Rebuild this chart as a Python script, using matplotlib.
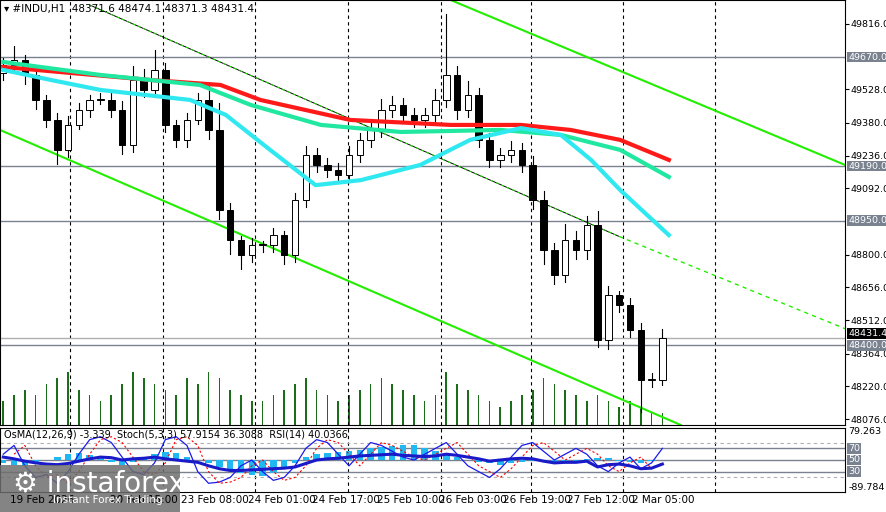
import matplotlib
matplotlib.use("Agg")
import matplotlib.pyplot as plt
import numpy as np
from matplotlib.patches import Rectangle

closes = [49635,49657,49591,49481,49393,49261,49371,49437,49481,49481,49437,49283,49569,49525,49613,
          49371,49305,49393,49481,49349,48996,48864,48798,48842,48842,48886,48798,49040,49239,49195,
          49172,49150,49239,49305,49349,49437,49459,49415,49393,49415,49481,49591,49437,49503,49305,
          49217,49239,49261,49195,49040,48820,48710,48864,48820,48930,48424,48622,48578,48468,48248,
          48248,48431]
first_open = 49600
wick_up = [30,60,20,30,20,30,40,30,20,30,40,40,60,50,90,30,20,30,30,60,120,30,20,30,20,30,20,30,40,30,
           30,30,40,30,40,50,40,30,30,30,50,270,40,60,30,30,30,40,30,40,40,30,70,40,40,60,40,20,30,30,30,40]
wick_dn = [30,20,40,40,30,60,30,20,30,20,30,40,30,30,30,30,30,30,20,40,40,60,60,30,30,30,40,30,30,30,
           30,30,30,30,30,30,30,30,30,30,30,30,40,30,30,30,30,30,30,40,60,40,30,40,40,30,40,30,30,140,30,20]
volumes = [20,25,30,25,35,40,45,30,25,20,25,35,45,40,35,30,25,40,35,45,40,30,25,20,20,25,30,35,40,30,
           25,20,25,30,35,40,35,30,25,20,25,45,35,30,25,20,15,20,25,30,40,35,30,25,20,25,20,15,20,15,10,10]

red_x = [0,13.6,20.1,23.8,32.1,41.4,47.9,52.5,57.1,61.6]
red_y = [49626,49569,49547,49481,49393,49371,49371,49349,49305,49217]
teal_x = [0,9,18.2,22.9,29.4,36.8,46.0,51.6,57.1,61.6]
teal_y = [49648,49591,49547,49459,49371,49340,49349,49327,49261,49142]
cyan_x = [0,4.4,9,17.3,20.6,24.7,28.9,33.1,38.6,43.2,47.9,51.6,54.4,57.1,61.6]
cyan_y = [49613,49569,49525,49481,49415,49261,49106,49128,49195,49305,49357,49327,49217,49084,48886]

hlines = [49670, 49190, 48950, 48400]
yticks = [49816,49528,49380,49236,49092,48800,48656,48512,48364,48220,48076]
date_labels = ["19 Feb 2026","20 Feb 15:00","23 Feb 08:00","24 Feb 01:00","24 Feb 17:00","25 Feb 10:00",
               "26 Feb 03:00","26 Feb 19:00","27 Feb 12:00","2 Mar 05:00"]
date_pos = [0.6, 13.0, 19.6, 25.8, 31.7, 37.7, 43.5, 49.4, 55.3, 61.1]
grid_pos = [6.2, 14.8, 23.3, 31.9, 40.5, 48.8, 57.4, 65.9]

osma = [-5,-8,-10,-5,0,5,10,12,8,4,-3,-8,-4,5,10,14,12,6,0,-6,-12,-18,-22,-26,-28,-22,-15,-5,5,10,
        12,14,15,18,20,22,24,26,25,20,15,10,5,0,-4,-6,-8,-6,-4,-2,-4,-6,-4,-2,2,4,3,-2,-4,-6,-2,0]
stoch = [60,75,40,20,25,10,30,60,85,90,80,55,30,25,45,85,90,75,30,10,12,20,40,50,30,15,20,40,70,85,
         80,60,40,60,80,75,65,55,50,60,70,80,60,40,30,20,35,55,75,80,65,50,60,70,60,40,30,45,55,35,45,70]
rsi = [55,52,48,45,43,42,44,48,52,55,54,50,52,53,55,52,50,48,46,40,35,32,32,33,34,35,36,38,44,50,
       52,53,55,57,58,59,60,58,57,56,57,60,58,55,52,48,50,52,53,52,48,45,46,46,48,38,42,43,40,35,36,43]

fig = plt.figure(figsize=(8.87, 5.12), dpi=100)
fig.patch.set_facecolor("white")
ax = fig.add_axes([0.0, 1-425/512, 845/887, 425/512])
axo = fig.add_axes([0.0, 1-492/512, 845/887, 64/512])
xmin, xmax = -0.3, 77.9
ymin, ymax = 48050, 49921
fs = 6.8

n = len(closes)
opens = [first_open] + closes[:-1]
idx = np.arange(n)
for i in range(n):
    o, c = opens[i], closes[i]
    hi = max(o, c) + wick_up[i]; lo = min(o, c) - wick_dn[i]
    ax.plot([i, i], [lo, hi], color="black", lw=0.8, zorder=3)
    col = "white" if c >= o else "black"
    h = max(abs(c-o), 4)
    ax.add_patch(Rectangle((i-0.3, min(o, c)), 0.6, h, facecolor=col, edgecolor="black", lw=0.7, zorder=4))

axv = ax.twinx()
axv.bar(idx, volumes, width=0.15, color="#1a6e1a")
axv.set_ylim(0, 360); axv.set_yticks([]); axv.set_xlim(xmin, xmax)
for s in axv.spines.values(): s.set_visible(False)
ax.set_zorder(axv.get_zorder()+1); ax.patch.set_visible(False)

ax.plot(red_x, red_y, color="#ff1a1a", lw=3, zorder=5)
ax.plot(teal_x, teal_y, color="#20e8a0", lw=3, zorder=5)
ax.plot(cyan_x, cyan_y, color="#30e8f0", lw=3, zorder=5)

ax.plot([41.4, 77.9], [49921, 49195], color="#22ee00", lw=1.5, zorder=2)
ax.plot([-0.3, 62.7], [49349, 48050], color="#22ee00", lw=1.5, zorder=2)
ax.plot([8, 57], [49899, 48880], color="black", lw=0.7, zorder=2)
ax.plot([8, 57], [49899, 48880], color="#22ee00", lw=0.7, ls=(0, (3, 3)), zorder=2)
ax.plot([57, 77.9], [48880, 48474], color="#22ee00", lw=1, ls=(0, (3, 3)), zorder=2)

for h in hlines:
    ax.axhline(h, color="#7a8290", lw=1, zorder=1)
ax.axhline(48431.4, color="#b0b0b0", lw=1, zorder=1)
for g in grid_pos:
    ax.axvline(g, color="black", lw=0.8, ls=(0, (3, 3)), zorder=0)
    axo.axvline(g, color="black", lw=0.8, ls=(0, (3, 3)), zorder=0)

ax.set_xlim(xmin, xmax); ax.set_ylim(ymin, ymax)
ax.yaxis.tick_right()
ax.set_yticks(yticks)
ax.set_yticklabels([f"{v:.1f}" for v in yticks], fontsize=fs)
ax.set_xticks([])
ax.tick_params(axis="y", length=3, pad=1)
for v in hlines:
    ax.text(1.004, (v-ymin)/(ymax-ymin), f"{v:.1f}", transform=ax.transAxes, fontsize=fs, color="white",
            va="center", ha="left", bbox=dict(boxstyle="square,pad=0.1", fc="#7a8290", ec="none"), clip_on=False)
ax.text(1.004, (48431.4-ymin)/(ymax-ymin)+0.012, "48431.4", transform=ax.transAxes, fontsize=fs, color="white",
        va="center", ha="left", bbox=dict(boxstyle="square,pad=0.1", fc="black", ec="none"), clip_on=False, zorder=1)
ax.text(0.005, 0.99, "\u25BE #INDU,H1  48371.6 48474.1 48371.3 48431.4", transform=ax.transAxes,
        fontsize=7.5, va="top", ha="left")

axo.set_xlim(xmin, xmax); axo.set_ylim(-5, 105)
axo.bar(idx, np.array(osma), bottom=50, width=0.6, color="#1fb8f0", zorder=2)
axo.plot(idx, stoch, color="#1a1aee", lw=0.9, zorder=3)
axo.plot(idx[1:], stoch[:-1], color="red", lw=0.8, ls=(0, (2, 2)), zorder=3)
axo.plot(idx, rsi, color="#1a1ac8", lw=2.2, zorder=4)
for lv in [30, 50, 70]:
    axo.axhline(lv, color="#7a8290", lw=1, zorder=1)
for lv in [20, 80]:
    axo.axhline(lv, color="#b0b0b0", lw=0.8, ls=(0, (3, 3)), zorder=1)
axo.yaxis.tick_right(); axo.set_yticks([]); axo.set_xticks([])
for lv in [30, 50, 70]:
    axo.text(1.004, (lv+5)/110, str(lv), transform=axo.transAxes, fontsize=fs, color="white", va="center",
             ha="left", bbox=dict(boxstyle="square,pad=0.1", fc="#7a8290", ec="none"), clip_on=False)
axo.text(1.004, 0.94, "79.263", transform=axo.transAxes, fontsize=fs, va="center", ha="left")
axo.text(1.004, 0.07, "-89.784", transform=axo.transAxes, fontsize=fs, va="center", ha="left")
axo.text(0.005, 0.97, "OsMA(12,26,9) -3.339  Stoch(5,3,3) 57.9154 36.3088  RSI(14) 40.0366",
         transform=axo.transAxes, fontsize=7, va="top", ha="left")

for p, l in zip(date_pos, date_labels):
    fig.text((p-xmin)/(xmax-xmin)*845/887, 1-500/512, l, fontsize=7.5, ha="center" if p > 1 else "left", va="center")

fig.patches.append(Rectangle((0, 0), 180/887, 47/512, transform=fig.transFigure, fc="#6e6e6e", alpha=0.85, ec="none"))
fig.text(0.015, 42/512, "\u2699 instaforex", fontsize=20, color="white", va="top", ha="left")
fig.text(0.06, 12/512, "Instant Forex Trading", fontsize=7.5, color="white", va="center", ha="left")

fig.savefig("out.png", dpi=100)
